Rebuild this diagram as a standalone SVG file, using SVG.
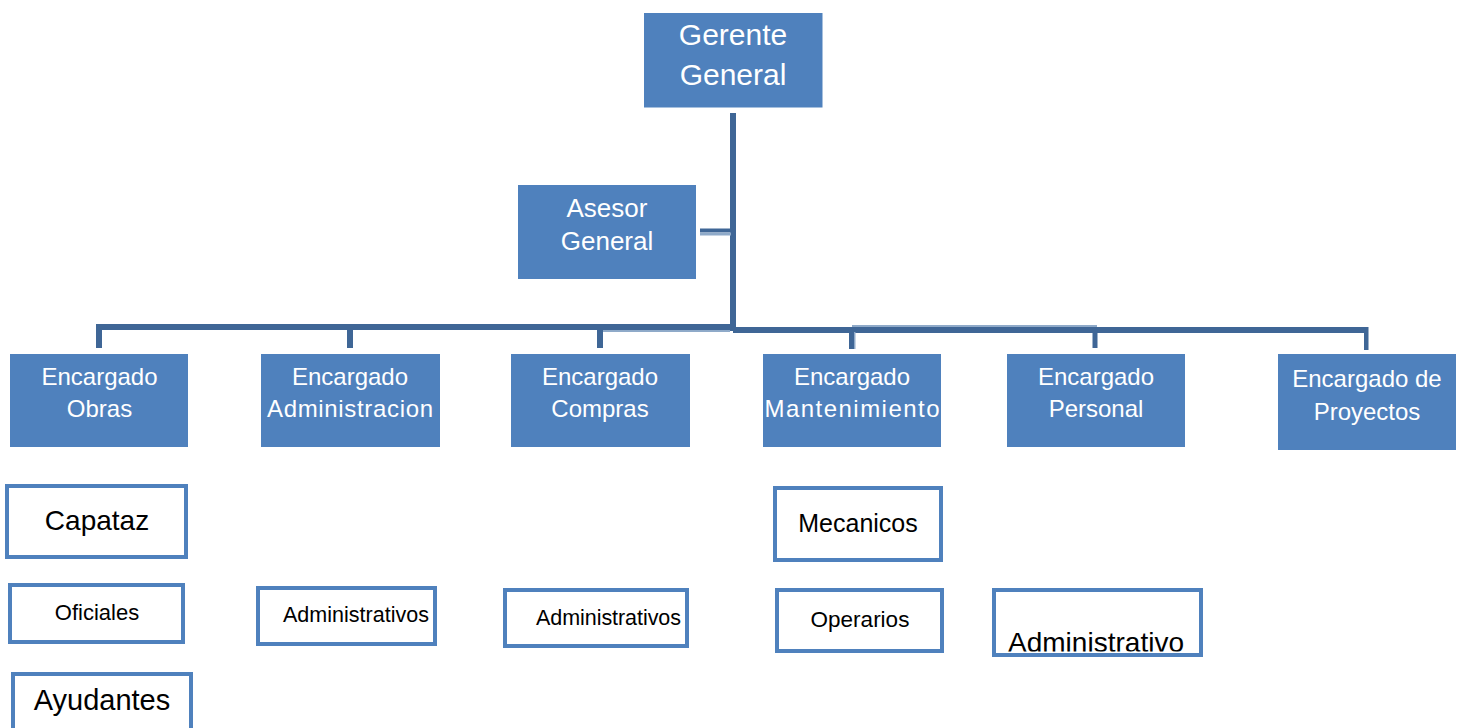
<svg xmlns="http://www.w3.org/2000/svg" width="1461" height="728" viewBox="0 0 1461 728">
<style>
.box{fill:#4F81BD}
.sub{fill:#FFFFFF;stroke:#4F81BD;stroke-width:4}
.wt{fill:#FFFFFF;font-family:"Liberation Sans",Arial,sans-serif;text-anchor:middle}
.bt{fill:#000000;font-family:"Liberation Sans",Arial,sans-serif}
.c{text-anchor:middle}
.dk{fill:#3F6696}
.lt{fill:#8FAAC9}
</style>
<defs>
<clipPath id="clipAdm"><rect x="996" y="592" width="203" height="59.5"/></clipPath>
</defs>
<rect width="1461" height="728" fill="#FFFFFF"/>
<g id="connectors">
<rect class="dk" x="730" y="113" width="6" height="218"/>
<rect class="dk" x="700" y="228.5" width="31" height="4"/>
<rect class="lt" x="700" y="232.5" width="31" height="3"/>
<rect class="dk" x="96" y="324" width="637" height="6"/>
<rect class="lt" x="602" y="330" width="128" height="2"/>
<rect class="lt" x="852" y="325" width="245" height="2"/>
<rect class="dk" x="733" y="327" width="364" height="6"/>
<rect class="dk" x="1097" y="327" width="271" height="6"/>
<rect class="dk" x="96" y="324" width="6" height="24"/>
<rect class="dk" x="347" y="324" width="6" height="24"/>
<rect class="dk" x="597" y="328" width="6" height="20"/>
<rect class="dk" x="849" y="330" width="5" height="19"/>
<rect class="lt" x="854" y="332" width="1.5" height="17"/>
<rect class="dk" x="1092.5" y="327" width="5" height="21"/>
<rect class="dk" x="1364" y="327" width="4.5" height="23"/>
</g>
<g id="gerente">
<rect class="box" x="644" y="13" width="178.5" height="94.5"/>
<text class="wt" x="733" y="45" font-size="30">Gerente</text>
<text class="wt" x="733" y="85" font-size="30">General</text>
</g>
<g id="asesor">
<rect class="box" x="518" y="185" width="178" height="94"/>
<text class="wt" x="607" y="217" font-size="26">Asesor</text>
<text class="wt" x="607" y="250" font-size="26">General</text>
</g>
<g id="obras">
<rect class="box" x="10" y="354" width="178" height="93"/>
<text class="wt" x="99.5" y="385" font-size="24">Encargado</text>
<text class="wt" x="99.5" y="417" font-size="24">Obras</text>
</g>
<g id="administracion">
<rect class="box" x="261" y="354" width="179" height="93"/>
<text class="wt" x="350" y="385" font-size="24">Encargado</text>
<text class="wt" x="350" y="417" font-size="24" textLength="166" lengthAdjust="spacing">Administracion</text>
</g>
<g id="compras">
<rect class="box" x="511" y="354" width="179" height="93"/>
<text class="wt" x="600" y="385" font-size="24">Encargado</text>
<text class="wt" x="600" y="417" font-size="24">Compras</text>
</g>
<g id="mantenimiento">
<rect class="box" x="763" y="354" width="178" height="93"/>
<text class="wt" x="852" y="385" font-size="24">Encargado</text>
<text class="wt" x="852" y="417" font-size="24" textLength="175" lengthAdjust="spacing">Mantenimiento</text>
</g>
<g id="personal">
<rect class="box" x="1007" y="354" width="178" height="93"/>
<text class="wt" x="1096" y="385" font-size="24">Encargado</text>
<text class="wt" x="1096" y="417" font-size="24">Personal</text>
</g>
<g id="proyectos">
<rect class="box" x="1278" y="354" width="178" height="96"/>
<text class="wt" x="1367" y="387" font-size="24">Encargado de</text>
<text class="wt" x="1367" y="420" font-size="24">Proyectos</text>
</g>
<g id="capataz">
<rect class="sub" x="7" y="486" width="179" height="71"/>
<text class="bt c" x="97" y="530" font-size="28">Capataz</text>
</g>
<g id="oficiales">
<rect class="sub" x="10" y="585" width="173" height="57"/>
<text class="bt c" x="97" y="620" font-size="22">Oficiales</text>
</g>
<g id="ayudantes">
<rect class="sub" x="13" y="674" width="178" height="62"/>
<text class="bt c" x="102" y="710" font-size="29">Ayudantes</text>
</g>
<g id="administrativos-admin">
<rect class="sub" x="258" y="588" width="177" height="56"/>
<text class="bt" x="283" y="622" font-size="21.5" textLength="146" lengthAdjust="spacing">Administrativos</text>
</g>
<g id="administrativos-compras">
<rect class="sub" x="505" y="590" width="182" height="56"/>
<text class="bt" x="536" y="625" font-size="21.5" textLength="145" lengthAdjust="spacing">Administrativos</text>
</g>
<g id="mecanicos">
<rect class="sub" x="775" y="488" width="166" height="72"/>
<text class="bt c" x="858" y="532" font-size="25">Mecanicos</text>
</g>
<g id="operarios">
<rect class="sub" x="777" y="590" width="165" height="61"/>
<text class="bt c" x="860" y="627" font-size="22.5">Operarios</text>
</g>
<g id="administrativo-personal">
<rect class="sub" x="994" y="590" width="207" height="65"/>
<text class="bt" x="1008" y="652" font-size="28" textLength="176" lengthAdjust="spacing" clip-path="url(#clipAdm)">Administrativo</text>
</g>
</svg>
